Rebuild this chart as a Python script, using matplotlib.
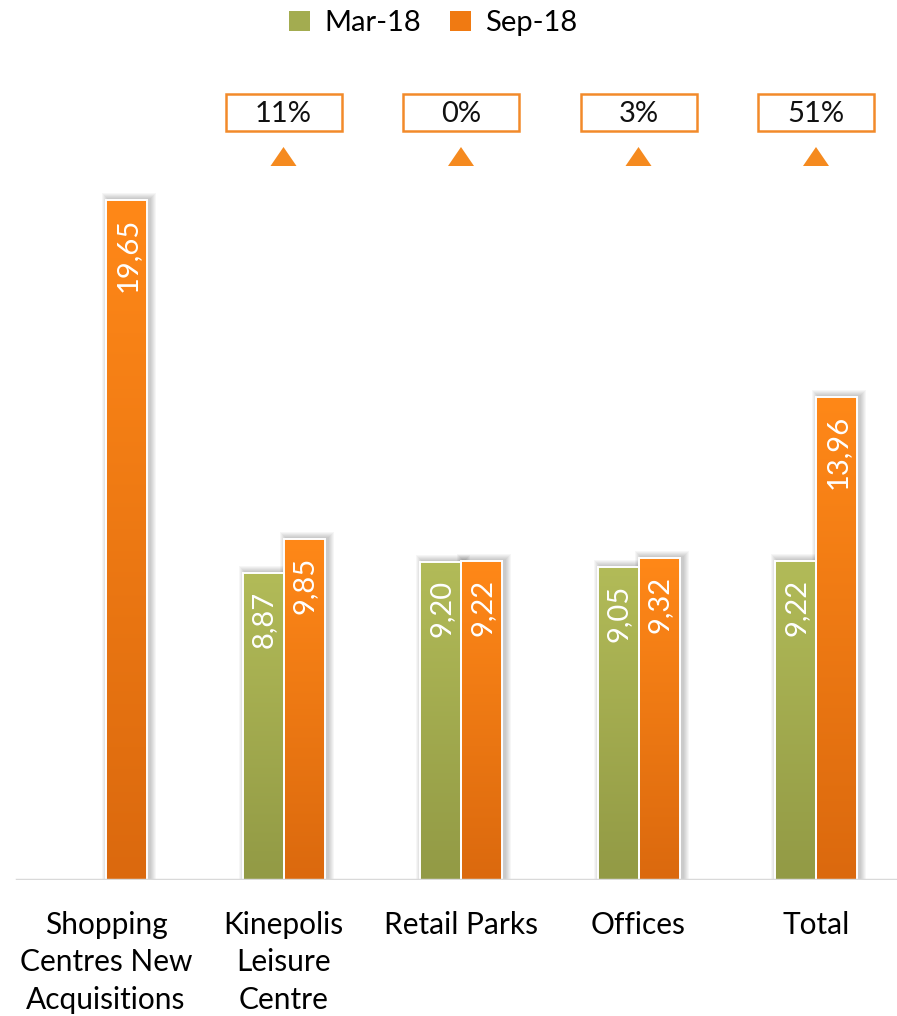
"""Average rent per category: Mar-18 vs Sep-18 with change callouts."""
import numpy as np
import matplotlib

matplotlib.use("Agg")
import matplotlib.pyplot as plt
from matplotlib.colors import LinearSegmentedColormap
from matplotlib.patches import Rectangle, Polygon

plt.rcParams["font.family"] = ["Lato", "DejaVu Sans"]

categories = ["Shopping\nCentres New\nAcquisitions", "Kinepolis\nLeisure\nCentre",
              "Retail Parks", "Offices", "Total"]
mar18 = [0.0, 8.87, 9.20, 9.05, 9.22]
sep18 = [19.65, 9.85, 9.22, 9.32, 13.96]
changes = [None, "11%", "0%", "3%", "51%"]
series_names = ["Mar-18", "Sep-18"]

GREEN_TOP, GREEN_BOT = "#B2BB58", "#929A45"
ORANGE_TOP, ORANGE_BOT = "#FF8818", "#DB690E"
BOX_EDGE = "#F28A2A"

W, H, DPI = 897, 1016, 100
fig = plt.figure(figsize=(W / DPI, H / DPI), dpi=DPI)
base_px = 880
ax = fig.add_axes([0, (H - base_px) / H, 1, base_px / H])

# pixel -> data helpers (category spacing 177.5 px, first center at 106 px)
step_px = 177.5
y_px = 34.6
x0 = -106 / step_px
ax.set_xlim(x0, x0 + W / step_px)
ax.set_ylim(0, base_px / y_px)
px_x = 1 / step_px
px_y = 1 / y_px

x = np.arange(len(categories))
bw = 41 * px_x


def gradient_bars(xs, vals, top, bot, zorder=4):
    cmap = LinearSegmentedColormap.from_list("g", [bot, top])
    grad = np.linspace(1, 0, 256).reshape(-1, 1)
    bars = ax.bar(xs, vals, width=bw, facecolor="none", edgecolor="white",
                  linewidth=1.4, zorder=zorder + 1)
    for b in bars:
        if b.get_height() <= 0:
            continue
        bx, bh = b.get_x(), b.get_height()
        # soft shadow
        for k in range(1, 7):
            ax.add_patch(Rectangle((bx + (2 - k) * px_x, 0),
                                   bw + (2 * k + 1) * px_x, bh + (k + 1) * px_y,
                                   facecolor="black", edgecolor="none",
                                   alpha=0.035, zorder=2))
        im = ax.imshow(grad, extent=[bx, bx + bw, 0, bh], aspect="auto",
                       cmap=cmap, vmin=0, vmax=1, zorder=zorder)
        im.set_clip_path(b)
    return bars


bars_m = gradient_bars(x - bw / 2, mar18, GREEN_TOP, GREEN_BOT)
bars_s = gradient_bars(x + bw / 2, sep18, ORANGE_TOP, ORANGE_BOT)

for bars in (bars_m, bars_s):
    for b in bars:
        h = b.get_height()
        if h <= 0:
            continue
        ax.text(b.get_x() + bw / 2 + 1 * px_x, h - 18 * px_y, f"{h:.2f}".replace(".", ","),
                rotation=90, ha="center", va="top", color="white",
                fontsize=21, zorder=8)

# change callouts
box_w = 116 * px_x
box_top, box_bot = (base_px - 94) * px_y, (base_px - 131) * px_y
tri_top, tri_bot = (base_px - 147) * px_y, (base_px - 166) * px_y
tri_hw = 13 * px_x
for xi, ch in zip(x, changes):
    if ch is None:
        continue
    ax.add_patch(Rectangle((xi - box_w / 2, box_bot), box_w, box_top - box_bot,
                           facecolor="white", edgecolor=BOX_EDGE, linewidth=1.8,
                           zorder=6))
    ax.text(xi, (box_top + box_bot) / 2 - 1 * px_y, ch, ha="center", va="center",
            fontsize=21, color="#111111", zorder=7)
    ax.add_patch(Polygon([(xi - tri_hw, tri_bot), (xi + tri_hw, tri_bot), (xi, tri_top)],
                         closed=True, facecolor="#F58A1F", edgecolor="none", zorder=6))

ax.axhline(0, xmin=17 / W, color="#D9D9D9", linewidth=2.5, zorder=7)

ax.set_xticks(x)
ax.set_xticklabels(categories, fontsize=21.5, linespacing=1.42)
ax.tick_params(axis="x", length=0, pad=22)
ax.set_yticks([])
for s in ax.spines.values():
    s.set_visible(False)

handles = [Rectangle((0, 0), 1, 1, facecolor=c, edgecolor="none")
           for c in ("#A3AC50", "#F07A12")]
fig.legend(handles, series_names, loc="upper center", bbox_to_anchor=(0.483, 1.016),
           ncol=2, frameon=False, fontsize=21, handlelength=0.7, handleheight=0.7,
           handletextpad=0.5, columnspacing=1.0)

fig.savefig("out.png", dpi=DPI, facecolor="white")
plt.close(fig)
